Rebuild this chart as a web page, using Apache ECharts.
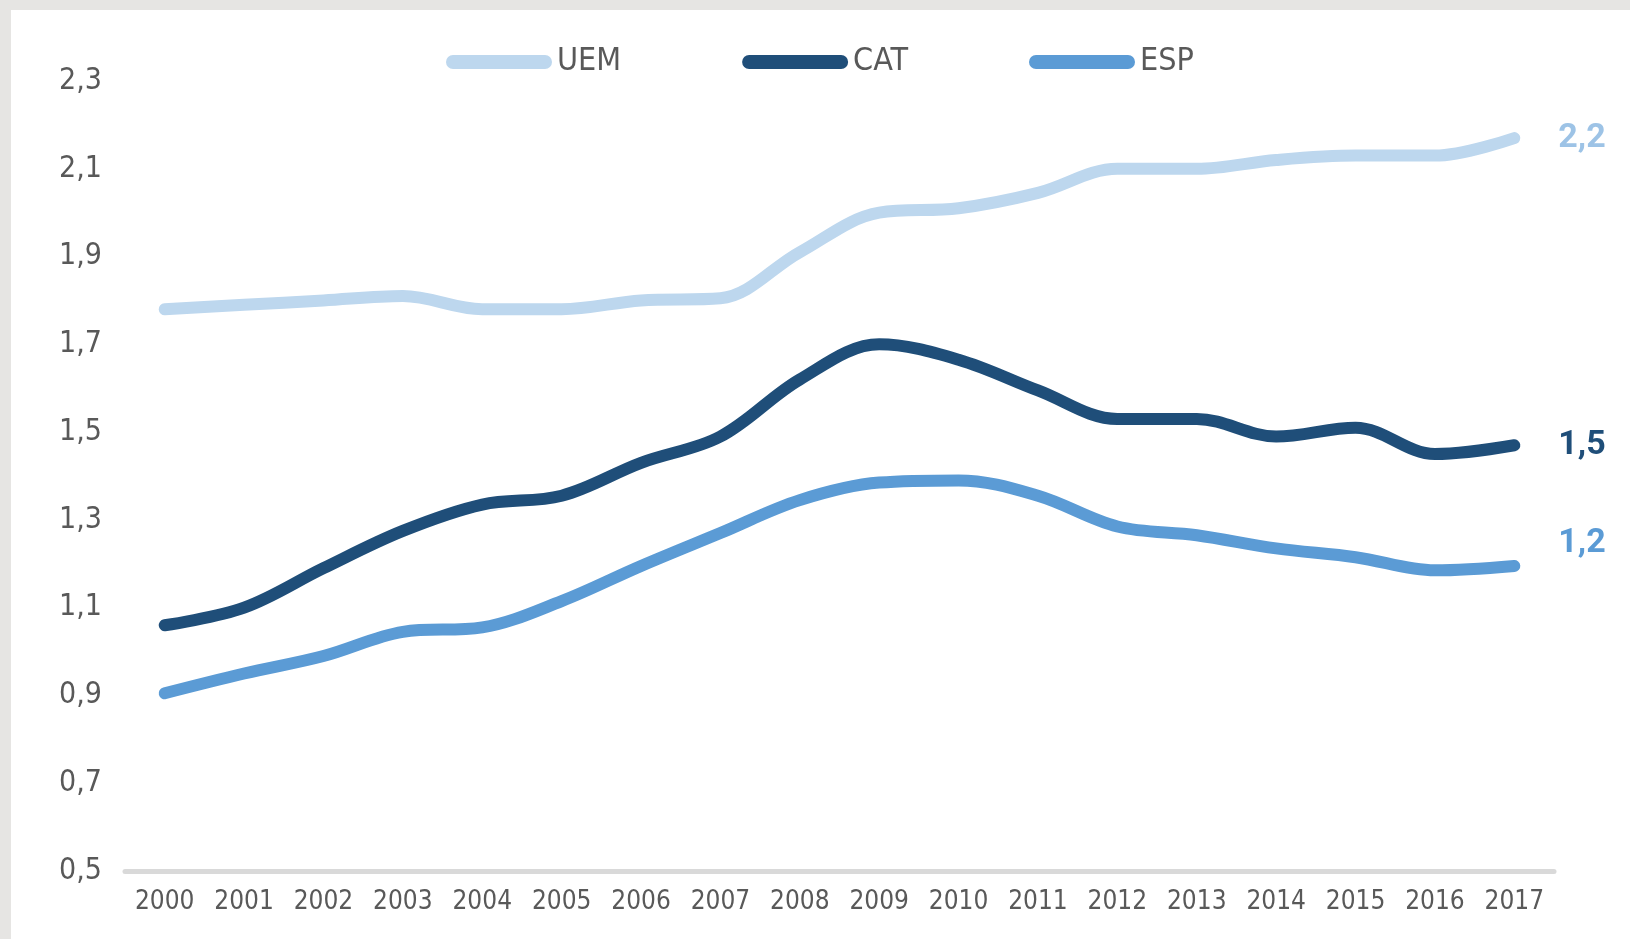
<!DOCTYPE html>
<html>
<head>
<meta charset="utf-8">
<script src="https://cdn.jsdelivr.net/npm/echarts@6/dist/echarts.min.js"></script>
<style>
  html, body { margin: 0; padding: 0; background: #e6e5e3; }
  #chart { position: absolute; left: 11px; top: 10px; width: 1619px; height: 929px; background: #ffffff; }
</style>
</head>
<body>
<div id="chart"></div>
<script>
const YEARS = ['2000', '2001', '2002', '2003', '2004', '2005', '2006', '2007', '2008',
    '2009', '2010', '2011', '2012', '2013', '2014', '2015', '2016', '2017'];

const UEM = [1.78, 1.79, 1.80, 1.81, 1.78, 1.78, 1.80, 1.805, 1.91, 2.00,
    2.01, 2.045, 2.10, 2.10, 2.12, 2.13, 2.13, 2.17];
const CAT = [1.06, 1.10, 1.19, 1.275, 1.335, 1.355, 1.43, 1.49, 1.62, 1.70,
    1.665, 1.595, 1.53, 1.53, 1.49, 1.51, 1.45, 1.47];
const ESP = [0.905, 0.95, 0.99, 1.045, 1.055, 1.115, 1.195, 1.27, 1.345, 1.385,
    1.39, 1.355, 1.285, 1.265, 1.235, 1.215, 1.185, 1.195];

const SERIES_NAMES = ['UEM', 'CAT', 'ESP'];
const END_LABELS = ['2,2', '1,5', '1,2'];

const LINE_COLORS = ['#bdd7ee', '#1f4e79', '#5b9bd5'];
const LABEL_COLORS = ['#9dc3e6', '#1f4e79', '#5b9bd5'];
const LABEL_OFFSETS = [[0, 0], [0, 0], [0, -22]];

const FONT = '"DejaVu Sans Condensed", "Liberation Sans", sans-serif';

const chart = echarts.init(document.getElementById('chart'));

const series = [UEM, CAT, ESP].map((data, i) => ({
    name: SERIES_NAMES[i],
    type: 'line',
    smooth: 0.35,
    symbol: 'none',
    lineStyle: { width: 12, color: LINE_COLORS[i], cap: 'round', join: 'round' },
    itemStyle: { color: LINE_COLORS[i] },
    endLabel: {
        show: true,
        formatter: END_LABELS[i],
        color: LABEL_COLORS[i],
        fontFamily: 'Roboto, "Liberation Sans", sans-serif',
        fontWeight: 'bold',
        fontSize: 34,
        distance: 44,
        offset: LABEL_OFFSETS[i]
    },
    data: data
}));

chart.setOption({
    animation: false,
    legend: {
        data: SERIES_NAMES,
        left: 435,
        top: 36,
        padding: 0,
        itemGap: 121,
        itemWidth: 106,
        itemHeight: 14,
        icon: 'path://M7,0 L99,0 A7,7 0 0 1 99,14 L7,14 A7,7 0 0 1 7,0 Z',
        textStyle: { color: '#595959', fontSize: 32, fontFamily: FONT }
    },
    grid: { left: 114, right: 76, top: 71, bottom: 68 },
    xAxis: {
        type: 'category',
        data: YEARS,
        boundaryGap: true,
        axisLine: { lineStyle: { color: '#d9d9d9', width: 5 } },
        axisTick: { show: false },
        axisLabel: { color: '#595959', fontSize: 26, fontFamily: FONT, margin: 18, interval: 0 }
    },
    yAxis: {
        type: 'value',
        min: 0.5,
        max: 2.3,
        interval: 0.2,
        splitLine: { show: false },
        axisLine: { show: false },
        axisTick: { show: false },
        axisLabel: {
            color: '#595959', fontSize: 30, fontFamily: FONT, margin: 23,
            formatter: v => v.toFixed(1).replace('.', ',')
        }
    },
    series: series
});
</script>
</body>
</html>
